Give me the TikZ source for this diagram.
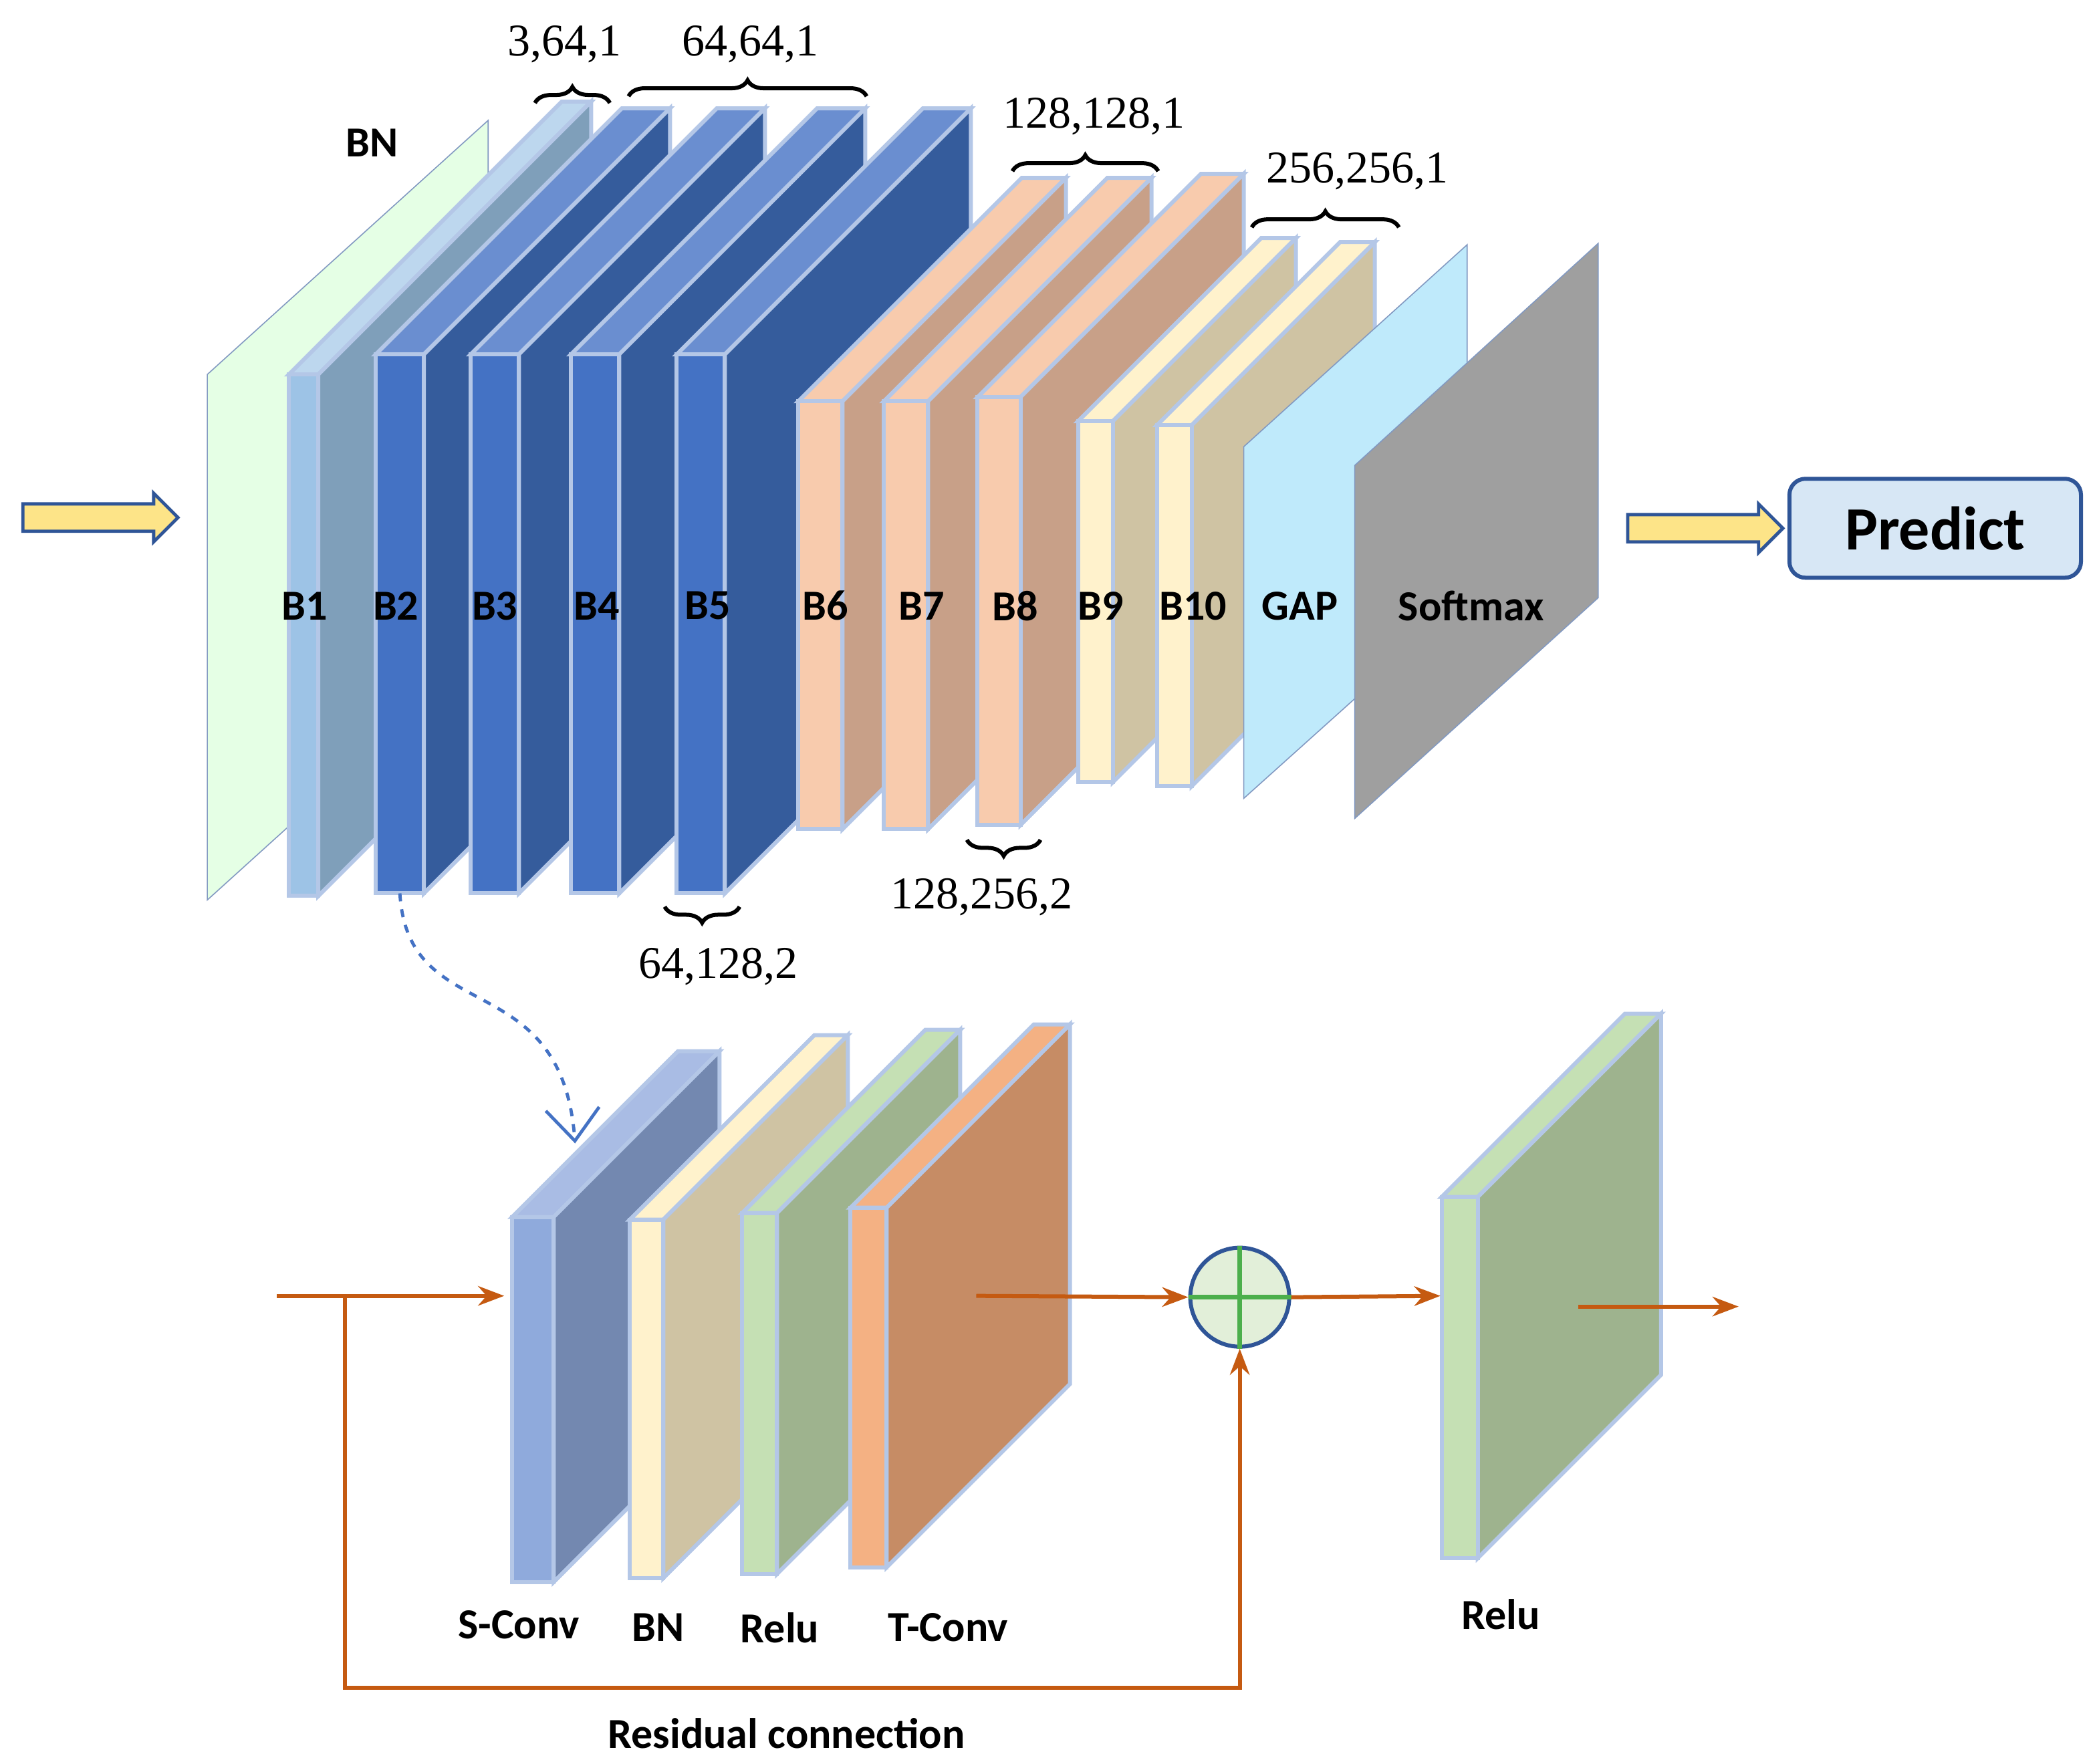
\documentclass[tikz,border=0pt]{standalone}
\usepackage{fontspec}
\setmainfont{Carlito}
\newfontfamily\numfont{Liberation Serif}
\usetikzlibrary{arrows.meta,decorations.pathreplacing,shapes.arrows}

\definecolor{edgeblue}{HTML}{B4C7E7}
\definecolor{resorange}{HTML}{C55A11}
\definecolor{darkblue}{HTML}{2F5597}
\definecolor{lbF}{HTML}{9DC3E6}\definecolor{lbS}{HTML}{7F9FBA}\definecolor{lbT}{HTML}{BDD7EE}
\definecolor{dbF}{HTML}{4472C4}\definecolor{dbS}{HTML}{355C9C}\definecolor{dbT}{HTML}{6A8ED0}
\definecolor{orF}{HTML}{F8CBAD}\definecolor{orS}{HTML}{C8A088}
\definecolor{ylF}{HTML}{FFF2CC}\definecolor{ylS}{HTML}{CFC3A3}
\definecolor{scF}{HTML}{8FAADC}\definecolor{scS}{HTML}{7388B0}\definecolor{scT}{HTML}{A9BCE4}
\definecolor{grF}{HTML}{C5E0B4}\definecolor{grS}{HTML}{9EB38E}
\definecolor{toF}{HTML}{F4B183}\definecolor{toS}{HTML}{C68C65}

% slab: name, x, y, width, height, depth, front, side, top
\newcommand\slab[9]{%
  \fill[#9, draw=edgeblue, line width=1.5] (#2,#3) -- (#2+#6,#3-#6) -- (#2+#4+#6,#3-#6) -- (#2+#4,#3) -- cycle;
  \fill[#8, draw=edgeblue, line width=1.5] (#2+#4,#3) -- (#2+#4+#6,#3-#6) -- (#2+#4+#6,#3+#5-#6) -- (#2+#4,#3+#5) -- cycle;
  \fill[#7, draw=edgeblue, line width=1.5] (#2,#3) rectangle (#2+#4,#3+#5);
  \coordinate (#1) at (#2+#4/2,#3+#5);
}

\begin{document}
\begin{tikzpicture}[x=0.5pt,y=-0.5pt,>=Stealth]
  \tikzset{layerlabel/.style = {font=\bfseries\fontsize{16}{18}\selectfont},
           dims/.style       = {font=\numfont\fontsize{17}{19}\selectfont},
           brc/.style        = {decorate, decoration={brace, amplitude=6}, line width=1.5},
           flow/.style       = {->, resorange, line width=1.5},
           fatarrow/.style   = {single arrow, draw=darkblue, fill=yellow!60!orange!45, line width=1.2,
                                minimum height=58pt, minimum width=0pt, single arrow head extend=4pt,
                                inner xsep=0pt, inner ysep=4.5pt}}
  \useasboundingbox (0,0) rectangle (1568,1319);

  % input / output arrows
  \node[fatarrow] (inarrow) at (70,387) {};
  \node[fatarrow] (outarrow) at (1270,395) {};
  \node[draw=darkblue, fill=lbT!60, rounded corners=6pt, line width=1.5,
        minimum width=109pt, minimum height=37pt,
        font=\bfseries\fontsize{23}{25}\selectfont] (predict) at (1447,395) {Predict};

  % main network
  \fill[green!10, draw=darkblue!60] (155,280) -- (365,90) -- (365,483) -- (155,673) -- cycle;
  \slab{b1}{216}{280}{22}{390}{204}{lbF}{lbS}{lbT}
  \slab{b2}{281}{265}{36}{403}{184}{dbF}{dbS}{dbT}
  \slab{b3}{352}{265}{36}{403}{184}{dbF}{dbS}{dbT}
  \slab{b4}{427}{265}{36}{403}{184}{dbF}{dbS}{dbT}
  \slab{b5}{506}{265}{36}{403}{184}{dbF}{dbS}{dbT}
  \slab{b6}{597}{300}{33}{320}{167}{orF}{orS}{orF}
  \slab{b7}{661}{300}{33}{320}{167}{orF}{orS}{orF}
  \slab{b8}{731}{297}{32}{320}{167}{orF}{orS}{orF}
  \slab{b9}{806}{315}{26}{270}{137}{ylF}{ylS}{ylF}
  \slab{b10}{865}{318}{26}{270}{137}{ylF}{ylS}{ylF}
  \fill[cyan!25, draw=darkblue!60] (930,334) -- (1097,183) -- (1097,447) -- (930,597) -- cycle;
  \fill[gray!75, draw=darkblue!60] (1013,348) -- (1195,182) -- (1195,447) -- (1013,612) -- cycle;

  \node[layerlabel] (lbn) at (278,107) {BN};
  \foreach \name/\x in {B1/228, B2/296, B3/370, B4/446, B5/529, B6/617, B7/689,
                        B8/759, B9/823, B10/892, GAP/972, Softmax/1100}
    \node[layerlabel] (l\name) at (\x,453) {\name};

  % braces
  \draw[brc] (400,77) -- (456,77);
  \node[dims] (d1) at (422,33) {3,64,1};
  \draw[brc] (470,72) -- (648,72);
  \node[dims] (d2) at (561,33) {64,64,1};
  \draw[brc] (757,128) -- (866,128);
  \node[dims] (d3) at (818,87) {128,128,1};
  \draw[brc] (936,170) -- (1046,170);
  \node[dims] (d4) at (1015,128) {256,256,1};
  \draw[brc] (553,678) -- (497,678);
  \node[dims] (d5) at (537,723) {64,128,2};
  \draw[brc] (778,628) -- (723,628);
  \node[dims] (d6) at (734,671) {128,256,2};

  % residual block
  \slab{sconv}{383}{910}{31}{273}{124}{scF}{scS}{scT}
  \slab{bnb}{471}{912}{25}{268}{138}{ylF}{ylS}{ylF}
  \slab{relu}{555}{907}{26}{270}{137}{grF}{grS}{grF}
  \slab{tconv}{636}{903}{27}{269}{137}{toF}{toS}{toF}
  \slab{relu2}{1078}{895}{27}{270}{137}{grF}{grS}{grF}

  \coordinate (rin) at (207,969);
  \coordinate (rsplit) at (258,969);
  \coordinate (rblk) at (377,969);
  \coordinate (tout) at (730,969);
  \coordinate (r2in) at (1077,969);
  \coordinate (r2out) at (1180,977);
  \coordinate (rend) at (1300,977);
  \node[circle, draw=darkblue, fill=grF!50, line width=1.5, minimum size=37pt, inner sep=0pt] (sum) at (927,970) {};
  \draw[green!55!black!70, line width=1.8] (sum.north) -- (sum.south) (sum.west) -- (sum.east);

  \draw[flow] (rin) -- (rblk);
  \draw[flow] (rsplit) |- (258,1262) -| (sum.south);
  \draw[flow] (tout) -- (sum.west);
  \draw[flow] (sum.east) -- (r2in);
  \draw[flow] (r2out) -- (rend);

  \draw[dashed, dbF, line width=1.2, -{Straight Barb[length=12pt,width=20pt]}]
    (b2) .. controls (305,770) and (420,720) .. (430,855);

  \node[layerlabel] (lsconv) at (388,1215) {S-Conv};
  \node[layerlabel] (lbnb) at (492,1217) {BN};
  \node[layerlabel] (lrelu) at (583,1217) {Relu};
  \node[layerlabel] (ltconv) at (709,1217) {T-Conv};
  \node[layerlabel] (lrelu2) at (1122,1207) {Relu};
  \node[layerlabel] (lres) at (588,1296) {Residual connection};
\end{tikzpicture}
\end{document}
